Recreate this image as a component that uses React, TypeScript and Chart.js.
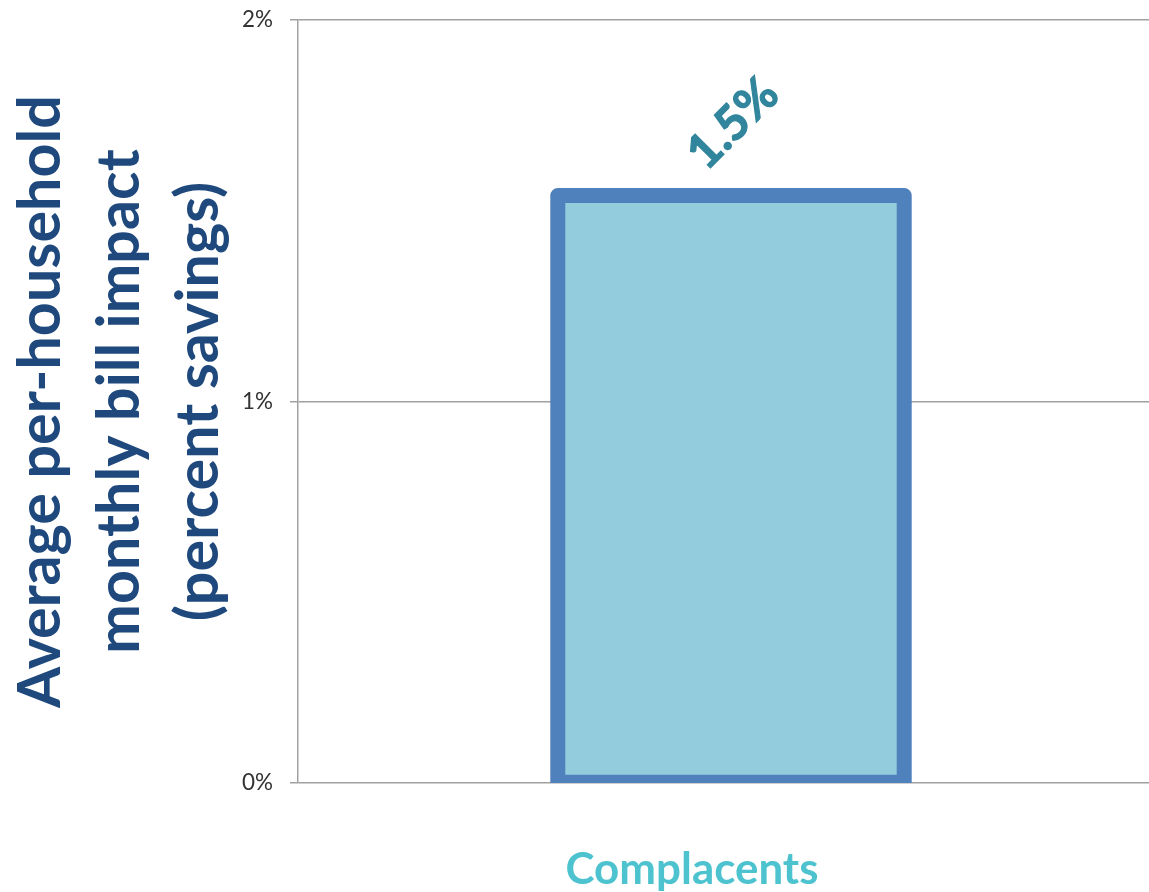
import React, { useEffect, useRef } from 'react';
import { Chart, registerables } from 'chart.js';

Chart.register(...registerables);

// ---- data ----
const categories: string[] = ['Complacents'];
const savingsPercent: number[] = [1.54];
const yTickValues: number[] = [0, 1, 2];
const yTitleLines: string[] = ['Average per-household', 'monthly bill impact', '(percent savings)'];

// ---- styles ----
const FONT = 'Lato, "Open Sans", "Noto Sans", sans-serif';
const BAR_FILL = '#93CDDD';
const BAR_EDGE = '#4F81BD';
const LABEL_COLOR = '#31859C';
const TITLE_COLOR = '#1F497D';
const CATEGORY_COLOR = '#4DC3CF';
const GRID_COLOR = '#A0A0A0';
const TICK_COLOR = '#333333';

function fitSize(text: string, weight: string, target: number): number {
  const c = document.createElement('canvas').getContext('2d')!;
  c.font = `${weight} 100px ${FONT}`;
  return (100 * target) / c.measureText(text).width;
}

const decorPlugin = {
  id: 'decor',
  afterDatasetsDraw(chart: any) {
    const { ctx, chartArea } = chart;
    const meta = chart.getDatasetMeta(0);
    meta.data.forEach((bar: any, i: number) => {
      const p = bar.getProps(['x', 'y', 'base', 'width'], true);
      // border centred on the bar edge, clipped to the plot area
      ctx.save();
      ctx.beginPath();
      ctx.rect(chartArea.left, chartArea.top - 20, chartArea.right - chartArea.left, chartArea.bottom - chartArea.top + 20);
      ctx.clip();
      ctx.lineWidth = 15;
      ctx.lineJoin = 'round';
      ctx.strokeStyle = BAR_EDGE;
      ctx.strokeRect(p.x - p.width / 2, p.y, p.width, p.base - p.y);
      ctx.restore();

      // rotated value label
      const v = savingsPercent[i];
      const txt = v.toFixed(1) + '%';
      const size = fitSize(txt, 'bold', 106);
      ctx.save();
      ctx.translate(p.x + 2, p.y - 72);
      ctx.rotate(-Math.PI / 4);
      ctx.font = `bold ${size}px ${FONT}`;
      ctx.fillStyle = LABEL_COLOR;
      ctx.strokeStyle = LABEL_COLOR;
      ctx.lineWidth = 1.2;
      ctx.textAlign = 'center';
      ctx.textBaseline = 'middle';
      ctx.fillText(txt, 0, 0);
      ctx.strokeText(txt, 0, 0);
      ctx.restore();
    });
  },
  afterDraw(chart: any) {
    const { ctx, chartArea } = chart;
    const size = fitSize(yTitleLines[0], 'bold', 613);
    const baselines = [60, 139, 218];
    const yc = (chartArea.top + chartArea.bottom) / 2;
    ctx.save();
    ctx.font = `bold ${size}px ${FONT}`;
    ctx.fillStyle = TITLE_COLOR;
    ctx.textAlign = 'center';
    ctx.textBaseline = 'alphabetic';
    yTitleLines.forEach((line, i) => {
      ctx.save();
      ctx.translate(baselines[i], yc);
      ctx.rotate(-Math.PI / 2);
      ctx.fillText(line, 0, 0);
      ctx.restore();
    });
    ctx.restore();
  },
};

export default function App() {
  const canvasRef = useRef<HTMLCanvasElement | null>(null);

  useEffect(() => {
    if (!canvasRef.current) return;
    const catSize = fitSize(categories[0], 'bold', 253);
    const tickSize = fitSize('2%', 'normal', 31);
    const chart = new Chart(canvasRef.current, {
      type: 'bar',
      data: {
        labels: categories,
        datasets: [
          {
            data: savingsPercent,
            backgroundColor: BAR_FILL,
            borderWidth: 0,
            barPercentage: 0.5,
            categoryPercentage: 0.8,
          },
        ],
      },
      options: {
        responsive: false,
        animation: false,
        layout: { padding: { top: 20, right: 1, bottom: 0, left: 0 } },
        plugins: {
          legend: { display: false },
          tooltip: { enabled: false },
          title: { display: false },
        },
        scales: {
          x: {
            grid: { display: false, drawTicks: false },
            border: { display: false },
            ticks: {
              padding: 61,
              labelOffset: -39,
              color: CATEGORY_COLOR,
              font: { family: FONT, size: catSize, weight: 'bold' },
            },
            afterFit: (scale: any) => {
              scale.height = 109;
              scale.paddingLeft = 0;
              scale.paddingRight = 0;
            },
          },
          y: {
            min: yTickValues[0],
            max: yTickValues[yTickValues.length - 1],
            afterBuildTicks: (scale: any) => {
              scale.ticks = yTickValues.map((v) => ({ value: v }));
            },
            grid: { color: GRID_COLOR, lineWidth: 1.5, tickLength: 8, drawTicks: true },
            border: { display: true, color: GRID_COLOR, width: 1.5 },
            ticks: {
              padding: 17,
              color: TICK_COLOR,
              font: { family: FONT, size: tickSize },
              callback: (v: any) => `${v}%`,
            },
            afterFit: (scale: any) => {
              scale.width = 298;
              scale.paddingTop = 0;
              scale.paddingBottom = 0;
            },
          },
        },
      },
      plugins: [decorPlugin],
    });
    return () => chart.destroy();
  }, []);

  return (
    <div style={{ position: 'absolute', left: 0, top: 0, width: 1149, height: 892, overflow: 'hidden', background: '#fff' }}>
      <canvas ref={canvasRef} width={1165} height={892} style={{ display: 'block' }} />
    </div>
  );
}
